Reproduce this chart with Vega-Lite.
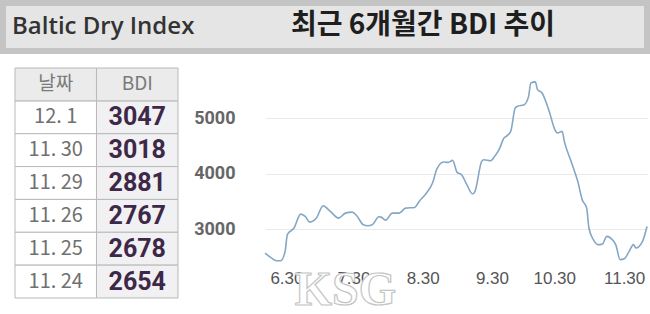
{
  "$schema": "https://vega.github.io/schema/vega-lite/v6.json",
  "padding": 0,
  "background": "#ffffff",
  "config": {"view": {"stroke": null}, "font": "Noto Sans CJK KR"},
  "datasets": {
    "table": [
      {"날짜": "12. 1", "BDI": 3047},
      {"날짜": "11. 30", "BDI": 3018},
      {"날짜": "11. 29", "BDI": 2881},
      {"날짜": "11. 26", "BDI": 2767},
      {"날짜": "11. 25", "BDI": 2678},
      {"날짜": "11. 24", "BDI": 2654}
    ],
    "bdi": [
      {"date": "2021/06/13", "BDI": 2568},
      {"date": "2021/06/16", "BDI": 2477},
      {"date": "2021/06/18", "BDI": 2430},
      {"date": "2021/06/20", "BDI": 2430},
      {"date": "2021/06/22", "BDI": 2600},
      {"date": "2021/06/23", "BDI": 2900},
      {"date": "2021/06/26", "BDI": 3020},
      {"date": "2021/06/29", "BDI": 3270},
      {"date": "2021/07/01", "BDI": 3228},
      {"date": "2021/07/03", "BDI": 3126},
      {"date": "2021/07/06", "BDI": 3198},
      {"date": "2021/07/09", "BDI": 3420},
      {"date": "2021/07/12", "BDI": 3330},
      {"date": "2021/07/16", "BDI": 3198},
      {"date": "2021/07/19", "BDI": 3288},
      {"date": "2021/07/22", "BDI": 3306},
      {"date": "2021/07/24", "BDI": 3246},
      {"date": "2021/07/27", "BDI": 3078},
      {"date": "2021/07/29", "BDI": 3060},
      {"date": "2021/07/31", "BDI": 3078},
      {"date": "2021/08/03", "BDI": 3222},
      {"date": "2021/08/04", "BDI": 3216},
      {"date": "2021/08/06", "BDI": 3162},
      {"date": "2021/08/09", "BDI": 3288},
      {"date": "2021/08/12", "BDI": 3288},
      {"date": "2021/08/15", "BDI": 3378},
      {"date": "2021/08/19", "BDI": 3390},
      {"date": "2021/08/21", "BDI": 3498},
      {"date": "2021/08/24", "BDI": 3636},
      {"date": "2021/08/27", "BDI": 3829},
      {"date": "2021/08/29", "BDI": 4087},
      {"date": "2021/09/01", "BDI": 4207},
      {"date": "2021/09/03", "BDI": 4201},
      {"date": "2021/09/05", "BDI": 4237},
      {"date": "2021/09/07", "BDI": 4021},
      {"date": "2021/09/09", "BDI": 3979},
      {"date": "2021/09/11", "BDI": 3829},
      {"date": "2021/09/14", "BDI": 3631},
      {"date": "2021/09/15", "BDI": 3679},
      {"date": "2021/09/18", "BDI": 4219},
      {"date": "2021/09/19", "BDI": 4249},
      {"date": "2021/09/22", "BDI": 4231},
      {"date": "2021/09/24", "BDI": 4321},
      {"date": "2021/09/26", "BDI": 4450},
      {"date": "2021/09/28", "BDI": 4640},
      {"date": "2021/09/29", "BDI": 4670},
      {"date": "2021/10/01", "BDI": 4760},
      {"date": "2021/10/03", "BDI": 5180},
      {"date": "2021/10/04", "BDI": 5210},
      {"date": "2021/10/07", "BDI": 5240},
      {"date": "2021/10/09", "BDI": 5390},
      {"date": "2021/10/10", "BDI": 5630},
      {"date": "2021/10/12", "BDI": 5650},
      {"date": "2021/10/13", "BDI": 5510},
      {"date": "2021/10/15", "BDI": 5450},
      {"date": "2021/10/18", "BDI": 5150},
      {"date": "2021/10/21", "BDI": 4770},
      {"date": "2021/10/22", "BDI": 4730},
      {"date": "2021/10/24", "BDI": 4760},
      {"date": "2021/10/25", "BDI": 4580},
      {"date": "2021/10/28", "BDI": 4220},
      {"date": "2021/10/31", "BDI": 3860},
      {"date": "2021/11/02", "BDI": 3530},
      {"date": "2021/11/04", "BDI": 3380},
      {"date": "2021/11/05", "BDI": 3020},
      {"date": "2021/11/07", "BDI": 2810},
      {"date": "2021/11/09", "BDI": 2720},
      {"date": "2021/11/11", "BDI": 2730},
      {"date": "2021/11/13", "BDI": 2870},
      {"date": "2021/11/15", "BDI": 2830},
      {"date": "2021/11/17", "BDI": 2720},
      {"date": "2021/11/19", "BDI": 2450},
      {"date": "2021/11/21", "BDI": 2470},
      {"date": "2021/11/23", "BDI": 2600},
      {"date": "2021/11/25", "BDI": 2720},
      {"date": "2021/11/26", "BDI": 2660},
      {"date": "2021/11/29", "BDI": 2780},
      {"date": "2021/12/01", "BDI": 3047}
    ]
  },
  "spacing": 13,
  "vconcat": [
    {
      "width": 644,
      "height": 48,
      "view": {"fill": "#e5e5e5", "stroke": "#c4c4c4", "strokeWidth": 6},
      "layer": [
        {
          "data": {"values": [{"label": "Baltic Dry Index"}]},
          "mark": {"type": "text", "align": "left", "baseline": "middle", "dx": -313, "font": "Open Sans", "fontWeight": 600, "fontSize": 24, "color": "#333333"},
          "encoding": {"text": {"field": "label"}}
        },
        {
          "data": {"values": [{"label": "최근 6개월간 BDI 추이"}]},
          "mark": {"type": "text", "align": "center", "baseline": "middle", "dx": 98, "dy": -1, "font": "Noto Sans CJK KR", "fontWeight": "bold", "fontSize": 28, "color": "#1e1e1e"},
          "encoding": {"text": {"field": "label"}}
        }
      ]
    },
    {
      "spacing": 14,
      "hconcat": [
        {
          "width": 175,
          "height": 230,
          "layer": [
            {
              "data": {"name": "table"},
              "transform": [{"fold": ["날짜", "BDI"], "as": ["col", "cell"]}],
              "mark": {"type": "rect", "stroke": "#b9b9b9", "strokeWidth": 1},
              "encoding": {
                "x": {"field": "col", "type": "nominal", "scale": {"type": "band", "domain": ["날짜", "BDI"], "paddingInner": 0, "paddingOuter": 0.0736, "align": 1}, "axis": null},
                "y": {"field": "날짜", "type": "nominal", "scale": {"type": "band", "domain": ["날짜", "12. 1", "11. 30", "11. 29", "11. 26", "11. 25", "11. 24"], "paddingInner": 0, "paddingOuter": 0}, "axis": null},
                "fill": {"condition": {"test": "datum.col === 'BDI'", "value": "#f1f0f2"}, "value": "#ffffff"}
              }
            },
            {
              "data": {"values": [{"col": "날짜"}, {"col": "BDI"}]},
              "mark": {"type": "rect", "stroke": "#b9b9b9", "strokeWidth": 1, "fill": "#ebebeb"},
              "encoding": {
                "x": {"field": "col", "type": "nominal"},
                "y": {"datum": "날짜", "type": "nominal"}
              }
            },
            {
              "data": {"values": [{"col": "날짜"}, {"col": "BDI"}]},
              "mark": {"type": "text", "font": "Noto Sans CJK KR", "fontSize": 19, "color": "#7a7a7a", "baseline": "middle"},
              "encoding": {
                "x": {"field": "col", "type": "nominal"},
                "y": {"datum": "날짜", "type": "nominal"},
                "text": {"field": "col"}
              }
            },
            {
              "data": {"name": "table"},
              "transform": [{"fold": ["날짜", "BDI"], "as": ["col", "cell"]}, {"filter": "datum.col === '날짜'"}],
              "mark": {"type": "text", "font": "Noto Sans CJK KR", "fontSize": 20, "color": "#707070", "baseline": "middle"},
              "encoding": {
                "x": {"field": "col", "type": "nominal"},
                "y": {"field": "날짜", "type": "nominal"},
                "text": {"field": "cell", "type": "nominal"}
              }
            },
            {
              "data": {"name": "table"},
              "transform": [{"fold": ["날짜", "BDI"], "as": ["col", "cell"]}, {"filter": "datum.col === 'BDI'"}],
              "mark": {"type": "text", "font": "Roboto", "fontWeight": "bold", "fontSize": 25, "color": "#3d2848", "baseline": "middle"},
              "encoding": {
                "x": {"field": "col", "type": "nominal"},
                "y": {"field": "날짜", "type": "nominal"},
                "text": {"field": "cell", "type": "nominal"}
              }
            }
          ]
        },
        {
          "width": 382,
          "height": 200,
          "layer": [
            {
              "data": {"name": "bdi"},
              "mark": {"type": "line", "interpolate": "monotone", "color": "#84a7c6", "strokeWidth": 1.6},
              "encoding": {
                "x": {
                  "field": "date", "type": "temporal",
                  "scale": {"domain": [{"year": 2021, "month": 6, "date": 13}, {"year": 2021, "month": 12, "date": 1}]},
                  "axis": {
                    "values": [
                      {"year": 2021, "month": 6, "date": 30},
                      {"year": 2021, "month": 7, "date": 30},
                      {"year": 2021, "month": 8, "date": 30},
                      {"year": 2021, "month": 9, "date": 30},
                      {"year": 2021, "month": 10, "date": 30},
                      {"year": 2021, "month": 11, "date": 30}
                    ],
                    "format": "%-m.%d", "labelAlign": "right", "labelBaseline": "top", "labelFlush": false, "labelOverlap": false,
                    "labelPadding": 2, "labelFontSize": 17, "labelColor": "#555555", "labelFont": "Liberation Sans",
                    "ticks": false, "domain": false, "grid": false, "title": null
                  }
                },
                "y": {
                  "field": "BDI", "type": "quantitative",
                  "scale": {"domain": [2300, 5900], "nice": false, "zero": false},
                  "axis": {
                    "values": [3000, 4000, 5000], "format": "d", "grid": true, "gridColor": "#e9e9e9", "domain": false, "ticks": false,
                    "labelPadding": 30, "labelFont": "Roboto", "labelFontWeight": "bold",
                    "labelFontSize": 18, "labelColor": "#666666", "title": null, "minExtent": 72
                  }
                }
              }
            },
            {
              "data": {"values": [{"label": "KSG"}]},
              "mark": {"type": "text", "font": "Liberation Serif", "fontWeight": "bold", "fontSize": 48, "fill": "#ffffff", "stroke": "#c4c4c4", "strokeWidth": 1.2, "baseline": "alphabetic", "clip": false},
              "encoding": {
                "x": {"datum": {"year": 2021, "month": 7, "date": 19}, "type": "temporal"},
                "y": {"datum": 1643, "type": "quantitative"},
                "text": {"field": "label"}
              }
            }
          ]
        }
      ]
    }
  ]
}
